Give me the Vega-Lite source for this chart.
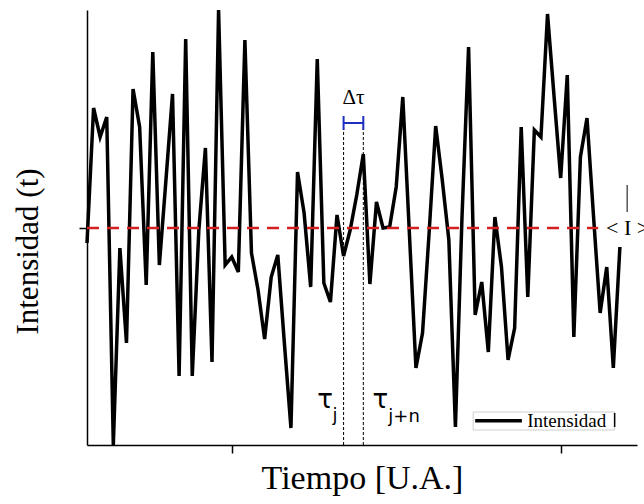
{
  "$schema": "https://vega.github.io/schema/vega-lite/v6.json",
  "autosize": "none",
  "width": 550,
  "height": 435,
  "padding": {"left": 87, "top": 10, "right": 7, "bottom": 59},
  "background": "white",
  "config": {
    "view": {"stroke": null},
    "axis": {
      "domainColor": "black", "domainWidth": 1.5, "tickColor": "black", "tickWidth": 1.5, "tickSize": 8,
      "labels": false, "grid": false, "titleFont": "Liberation Serif",
      "titleFontWeight": "normal", "titleColor": "black"
    }
  },
  "datasets": {
    "series": [
      {"t": 28, "v": 202}, {"t": 29, "v": 337}, {"t": 30, "v": 308}, {"t": 31, "v": 328}, {"t": 32, "v": 0},
      {"t": 33, "v": 197}, {"t": 34, "v": 102}, {"t": 35, "v": 356}, {"t": 36, "v": 318}, {"t": 37, "v": 160},
      {"t": 38, "v": 393}, {"t": 39, "v": 180}, {"t": 40, "v": 265}, {"t": 41, "v": 351}, {"t": 42, "v": 69},
      {"t": 43, "v": 406}, {"t": 44, "v": 69}, {"t": 45, "v": 215}, {"t": 46, "v": 297}, {"t": 47, "v": 83},
      {"t": 48, "v": 435}, {"t": 49, "v": 180}, {"t": 50, "v": 188}, {"t": 51, "v": 173}, {"t": 52, "v": 405},
      {"t": 53, "v": 192}, {"t": 54, "v": 155}, {"t": 55, "v": 106}, {"t": 56, "v": 168}, {"t": 57, "v": 190},
      {"t": 58, "v": 102}, {"t": 59, "v": 17}, {"t": 60, "v": 273}, {"t": 61, "v": 232}, {"t": 62, "v": 158},
      {"t": 63, "v": 386}, {"t": 64, "v": 162}, {"t": 65, "v": 143}, {"t": 66, "v": 230}, {"t": 67, "v": 189},
      {"t": 68, "v": 215}, {"t": 69, "v": 250}, {"t": 70, "v": 291}, {"t": 71, "v": 161}, {"t": 72, "v": 243},
      {"t": 73, "v": 217}, {"t": 74, "v": 218}, {"t": 75, "v": 258}, {"t": 76, "v": 348}, {"t": 77, "v": 212},
      {"t": 78, "v": 77}, {"t": 79, "v": 112}, {"t": 80, "v": 212}, {"t": 81, "v": 319}, {"t": 82, "v": 265},
      {"t": 83, "v": 205}, {"t": 84, "v": 18}, {"t": 85, "v": 228}, {"t": 86, "v": 398}, {"t": 87, "v": 130},
      {"t": 88, "v": 163}, {"t": 89, "v": 93}, {"t": 90, "v": 228}, {"t": 91, "v": 178}, {"t": 92, "v": 85},
      {"t": 93, "v": 117}, {"t": 94, "v": 318}, {"t": 95, "v": 148}, {"t": 96, "v": 315}, {"t": 97, "v": 308},
      {"t": 98, "v": 431}, {"t": 99, "v": 348}, {"t": 100, "v": 267}, {"t": 101, "v": 370}, {"t": 102, "v": 108},
      {"t": 103, "v": 288}, {"t": 104, "v": 327}, {"t": 105, "v": 228}, {"t": 106, "v": 132}, {"t": 107, "v": 178},
      {"t": 108, "v": 77}, {"t": 109, "v": 198}
    ],
    "mean": [{"t": 28, "t2": 105.7, "v": 217}],
    "taus": [{"t": 67, "v": 0, "v2": 322}, {"t": 70, "v": 0, "v2": 322}],
    "bracketH": [{"t": 67, "t2": 70, "v": 322}],
    "bracketCaps": [{"t": 67, "v": 315, "v2": 329}, {"t": 70, "v": 315, "v2": 329}],
    "bigLabels": [{"t": 64.2, "v": 37, "label": "τ"}, {"t": 72.6, "v": 37, "label": "τ"}],
    "subLabels": [{"t": 65.3, "v": 24, "label": "j"}, {"t": 73.8, "v": 23, "label": "j+n"}],
    "dtau": [{"t": 68.5, "v": 347, "label": "Δτ"}],
    "meanLabel": [{"t": 106.9, "v": 217, "label": "< I >"}],
    "meanBar": [{"t": 110.1, "v": 233, "v2": 260}],
    "legendBox": [{"t": 86.7, "t2": 108.2, "v": 15, "v2": 33}],
    "legendLine": [{"t": 87.0, "t2": 94.1, "v": 24.3}],
    "legendText": [{"t": 94.9, "v": 18, "label": "Intensidad"}],
    "legendBar": [{"t": 108.2, "v": 18, "v2": 32}]
  },
  "layer": [
    {
      "data": {"name": "legendBox"},
      "mark": {"type": "rect", "fill": "white", "stroke": "#cfcfcf", "strokeWidth": 1},
      "encoding": {
        "x": {"field": "t", "type": "quantitative", "scale": {"domain": [28, 111.6], "nice": false, "zero": false},
              "axis": {"values": [50, 100], "title": "Tiempo [U.A.]", "titleFontSize": 34, "titlePadding": 8}},
        "x2": {"field": "t2"},
        "y": {"field": "v", "type": "quantitative", "scale": {"domain": [0, 435], "nice": false},
              "axis": {"values": [217], "title": "Intensidad (t)", "titleFontSize": 31, "titlePadding": 34, "titleY": 241}},
        "y2": {"field": "v2"}
      }
    },
    {
      "data": {"name": "series"},
      "mark": {"type": "line", "color": "black", "strokeWidth": 3.5, "strokeJoin": "miter"},
      "encoding": {
        "x": {"field": "t", "type": "quantitative"},
        "y": {"field": "v", "type": "quantitative"}
      }
    },
    {
      "data": {"name": "mean"},
      "mark": {"type": "rule", "color": "#d42020", "strokeWidth": 2.5, "strokeDash": [12, 8]},
      "encoding": {
        "x": {"field": "t", "type": "quantitative"},
        "x2": {"field": "t2"},
        "y": {"field": "v", "type": "quantitative"}
      }
    },
    {
      "data": {"name": "taus"},
      "mark": {"type": "rule", "color": "black", "strokeWidth": 1, "strokeDash": [3, 2]},
      "encoding": {
        "x": {"field": "t", "type": "quantitative"},
        "y": {"field": "v", "type": "quantitative"},
        "y2": {"field": "v2"}
      }
    },
    {
      "data": {"name": "bracketH"},
      "mark": {"type": "rule", "color": "#1f2fbf", "strokeWidth": 2},
      "encoding": {
        "x": {"field": "t", "type": "quantitative"},
        "x2": {"field": "t2"},
        "y": {"field": "v", "type": "quantitative"}
      }
    },
    {
      "data": {"name": "bracketCaps"},
      "mark": {"type": "rule", "color": "#1f2fbf", "strokeWidth": 2},
      "encoding": {
        "x": {"field": "t", "type": "quantitative"},
        "y": {"field": "v", "type": "quantitative"},
        "y2": {"field": "v2"}
      }
    },
    {
      "data": {"name": "bigLabels"},
      "mark": {"type": "text", "font": "DejaVu Sans", "fontSize": 26, "align": "center", "baseline": "alphabetic", "color": "black"},
      "encoding": {
        "x": {"field": "t", "type": "quantitative"},
        "y": {"field": "v", "type": "quantitative"},
        "text": {"field": "label"}
      }
    },
    {
      "data": {"name": "subLabels"},
      "mark": {"type": "text", "font": "DejaVu Sans", "fontSize": 18, "align": "left", "baseline": "alphabetic", "color": "black"},
      "encoding": {
        "x": {"field": "t", "type": "quantitative"},
        "y": {"field": "v", "type": "quantitative"},
        "text": {"field": "label"}
      }
    },
    {
      "data": {"name": "dtau"},
      "mark": {"type": "text", "font": "Liberation Serif", "fontSize": 21, "align": "center", "baseline": "middle", "color": "black"},
      "encoding": {
        "x": {"field": "t", "type": "quantitative"},
        "y": {"field": "v", "type": "quantitative"},
        "text": {"field": "label"}
      }
    },
    {
      "data": {"name": "meanLabel"},
      "mark": {"type": "text", "font": "Liberation Serif", "fontSize": 22, "align": "left", "baseline": "middle", "color": "black"},
      "encoding": {
        "x": {"field": "t", "type": "quantitative"},
        "y": {"field": "v", "type": "quantitative"},
        "text": {"field": "label"}
      }
    },
    {
      "data": {"name": "meanBar"},
      "mark": {"type": "rule", "color": "black", "strokeWidth": 1},
      "encoding": {
        "x": {"field": "t", "type": "quantitative"},
        "y": {"field": "v", "type": "quantitative"},
        "y2": {"field": "v2"}
      }
    },
    {
      "data": {"name": "legendLine"},
      "mark": {"type": "rule", "color": "black", "strokeWidth": 3.5},
      "encoding": {
        "x": {"field": "t", "type": "quantitative"},
        "x2": {"field": "t2"},
        "y": {"field": "v", "type": "quantitative"}
      }
    },
    {
      "data": {"name": "legendText"},
      "mark": {"type": "text", "font": "Liberation Serif", "fontSize": 19, "align": "left", "baseline": "alphabetic", "color": "black"},
      "encoding": {
        "x": {"field": "t", "type": "quantitative"},
        "y": {"field": "v", "type": "quantitative"},
        "text": {"field": "label"}
      }
    },
    {
      "data": {"name": "legendBar"},
      "mark": {"type": "rule", "color": "black", "strokeWidth": 1.5},
      "encoding": {
        "x": {"field": "t", "type": "quantitative"},
        "y": {"field": "v", "type": "quantitative"},
        "y2": {"field": "v2"}
      }
    }
  ]
}
